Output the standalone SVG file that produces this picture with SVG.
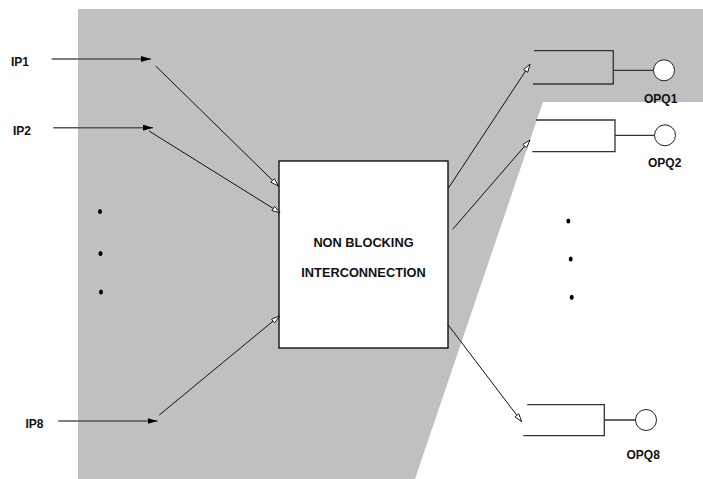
<svg xmlns="http://www.w3.org/2000/svg" width="703" height="479" viewBox="0 0 703 479">
<defs>
<style>
.lbl{font-family:"Liberation Sans",Arial,sans-serif;font-weight:bold;font-size:12px;fill:#111}
.ctr{font-family:"Liberation Sans",Arial,sans-serif;font-weight:bold;font-size:12.8px;fill:#111;text-anchor:middle}
.in{stroke:#555;stroke-width:1.5;fill:none}
.dg{stroke:#111;stroke-width:1;fill:none}
.q{stroke:#333;stroke-width:1.3;fill:none}
.dot{fill:#000}
</style>
<marker id="fa" markerUnits="userSpaceOnUse" markerWidth="11" markerHeight="7" refX="10" refY="3" orient="auto">
<path d="M0,0 L10,3 L0,6 z" fill="#000"/>
</marker>
<marker id="oa" markerUnits="userSpaceOnUse" markerWidth="10" markerHeight="7" refX="8.5" refY="3" orient="auto">
<path d="M0.5,0.5 L8.5,3 L0.5,5.5 z" fill="#fff" stroke="#000" stroke-width="0.8"/>
</marker>
</defs>
<rect width="703" height="479" fill="#fff"/>
<polygon points="78,9 703,9 703,102 543,102 415,479 78,479" fill="#c0c0c0"/>

<g id="node-center">
<rect x="279" y="161" width="169" height="187" fill="#fff" stroke="#000" stroke-width="1.3"/>
<text class="ctr" x="363.5" y="247">NON BLOCKING</text>
<text class="ctr" x="363.5" y="277">INTERCONNECTION</text>
</g>

<g id="node-ip1"><text class="lbl" x="11" y="66">IP1</text></g>
<g id="node-ip2"><text class="lbl" x="13" y="134.5">IP2</text></g>
<g id="node-ip8"><text class="lbl" x="25.5" y="427.5">IP8</text></g>

<g id="node-in-dots">
<ellipse class="dot" cx="100" cy="211.5" rx="2" ry="2.6"/>
<ellipse class="dot" cx="100.5" cy="253.5" rx="2" ry="2.6"/>
<ellipse class="dot" cx="101" cy="292" rx="2" ry="2.6"/>
</g>

<g id="node-opq1">
<path class="q" d="M534,50.7 H613.3 V84 H533 M613.3,70.3 H653.5"/>
<circle cx="664" cy="70.3" r="10.5" fill="#fff" stroke="#222" stroke-width="1"/>
<text class="lbl" x="644" y="103">OPQ1</text>
</g>
<g id="node-opq2">
<path class="q" d="M536,120 H615 V151.7 H532.3 M615,135.3 H654.5"/>
<circle cx="665" cy="135.3" r="10.5" fill="#fff" stroke="#222" stroke-width="1"/>
<text class="lbl" x="648" y="167">OPQ2</text>
</g>
<g id="node-opq8">
<path class="q" d="M527.3,404.7 H604.3 V435.7 H523.3 M604.3,420 H635.5"/>
<circle cx="646" cy="420" r="10.5" fill="#fff" stroke="#222" stroke-width="1"/>
<text class="lbl" x="626.5" y="458.5">OPQ8</text>
</g>

<g id="node-out-dots">
<ellipse class="dot" cx="568.3" cy="221" rx="2" ry="2.6"/>
<ellipse class="dot" cx="570.7" cy="259" rx="2" ry="2.6"/>
<ellipse class="dot" cx="571.7" cy="297.3" rx="2" ry="2.6"/>
</g>

<g id="connectors">
<line class="in" x1="51.7" y1="59" x2="151" y2="59" marker-end="url(#fa)"/>
<line class="in" x1="53.3" y1="127.7" x2="153" y2="127.7" marker-end="url(#fa)"/>
<line class="in" x1="58.3" y1="421" x2="157.5" y2="421" marker-end="url(#fa)"/>
<line class="dg" x1="155.7" y1="66" x2="278.3" y2="186" marker-end="url(#oa)"/>
<line class="dg" x1="149" y1="131" x2="280" y2="212.7" marker-end="url(#oa)"/>
<line class="dg" x1="159.3" y1="415" x2="279.3" y2="316" marker-end="url(#oa)"/>
<line class="dg" x1="448.3" y1="188.3" x2="530" y2="64.3" marker-end="url(#oa)"/>
<line class="dg" x1="452.7" y1="229.3" x2="530" y2="140" marker-end="url(#oa)"/>
<line class="dg" x1="447.7" y1="324.3" x2="521.7" y2="421.7" marker-end="url(#oa)"/>
</g>
</svg>
